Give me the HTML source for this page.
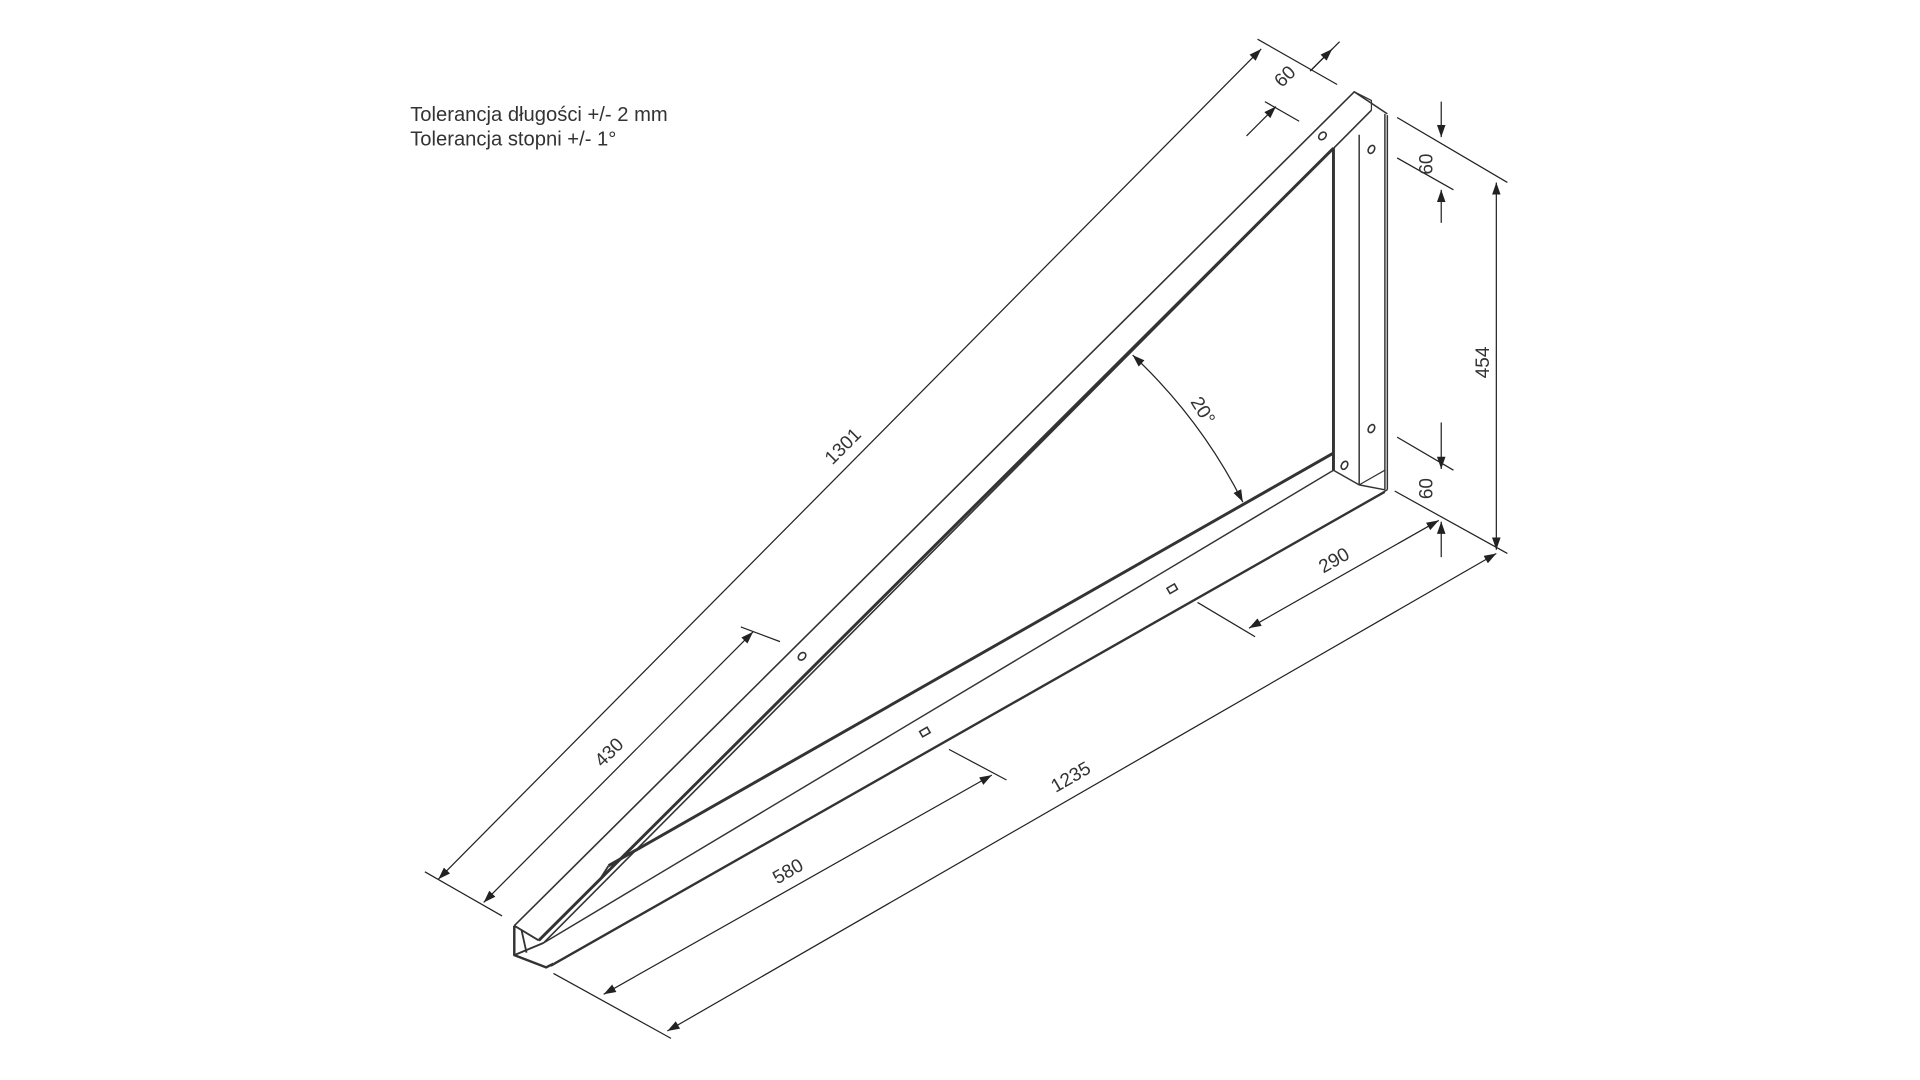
<!DOCTYPE html>
<html><head><meta charset="utf-8"><style>
html,body{margin:0;padding:0;background:#fff;width:1920px;height:1080px;overflow:hidden}
svg{display:block}
text{font-family:"Liberation Sans",sans-serif;fill:#333;font-weight:300}
</style></head><body>
<svg width="1920" height="1080" viewBox="0 0 1568 882" xmlns="http://www.w3.org/2000/svg">
<defs>
<marker id="a" viewBox="0 0 10 10" refX="10" refY="5" markerWidth="10" markerHeight="10" markerUnits="userSpaceOnUse" orient="auto-start-reverse"><path d="M0,1.5 L10,5 L0,8.5z" fill="#222"/></marker>
</defs>
<text x="335" y="99" font-size="16.5">Tolerancja długości +/- 2 mm</text>
<text x="335" y="119" font-size="16.5">Tolerancja stopni +/- 1°</text>

<g stroke="#333" fill="none" stroke-linejoin="round">
<path d="M420,756 L1106,75 L1133,93" stroke-width="1.3"/>
<path d="M1106,75 L1120,82 L1120,90" stroke-width="1"/>
<path d="M444,770 L1120,90" stroke-width="1.3"/>
<path d="M440,768 L1089,121" stroke-width="2.4"/>
<path d="M420,756 L420,780 L446,790 L452,787" stroke-width="2"/>
<path d="M420,756 L440,768 M420,780 L444,770 M426,760 L430,778" stroke-width="1.5"/>
<path d="M1089,121 L1089,384" stroke-width="2.4"/>
<path d="M1110,110 L1110,396" stroke-width="1.2"/>
<path d="M1131,93 L1131,400 M1133,94 L1133,400" stroke-width="1.2"/>
<path d="M1089,384 L1110,396 L1131,400" stroke-width="1.2"/>
<path d="M1110,396 L1131,384" stroke-width="1"/>
<path d="M1089,370 L497,707" stroke-width="2.4"/>
<path d="M1089,384 L444,770" stroke-width="1.2"/>
<path d="M1133,400 L452,787 M1131,402 L450,789" stroke-width="1.2"/>
<path d="M497,707 L490,718" stroke-width="1.5"/>
</g>
<g stroke="#333" fill="none" stroke-width="1.3">
<ellipse cx="1080" cy="111" rx="3.5" ry="2.6" transform="rotate(-45 1080 111)"/>
<ellipse cx="1120" cy="122" rx="3.5" ry="2.4" transform="rotate(-60 1120 122)"/>
<ellipse cx="1120" cy="350" rx="3.5" ry="2.4" transform="rotate(-60 1120 350)"/>
<ellipse cx="1098" cy="380" rx="3.5" ry="2.4" transform="rotate(-60 1098 380)"/>
<ellipse cx="655" cy="536" rx="3.5" ry="2.6" transform="rotate(-45 655 536)"/>
<rect x="752" y="595" width="7" height="5" transform="rotate(-30 756 598)"/>
<rect x="954" y="478" width="7" height="5" transform="rotate(-30 958 481)"/>
</g>
<g stroke="#222" stroke-width="1" fill="none">
<path d="M347,712 L410,748"/>
<path d="M1027,32 L1092,69"/>
<path d="M358,718 L1030,40" marker-start="url(#a)" marker-end="url(#a)"/>
<path d="M1094,34 L1070,58" /><path d="M1070,58 L1088,40" marker-end="url(#a)"/>
<path d="M1018,111 L1042,87" marker-end="url(#a)"/>
<path d="M1033,83 L1061,99"/>
<path d="M1141,96 L1231,149"/>
<path d="M1141,129 L1187,155"/>
<path d="M1177,83 L1177,112" marker-end="url(#a)"/>
<path d="M1177,182 L1177,155" marker-end="url(#a)"/>
<path d="M1222,149 L1222,449" marker-start="url(#a)" marker-end="url(#a)"/>
<path d="M1141,357 L1187,384"/>
<path d="M1139,401 L1231,452"/>
<path d="M1177,345 L1177,383" marker-end="url(#a)"/>
<path d="M1177,455 L1177,426" marker-end="url(#a)"/>
<path d="M978,492 L1025,520"/>
<path d="M1020,513 L1175,425" marker-start="url(#a)" marker-end="url(#a)"/>
<path d="M452,795 L548,848"/>
<path d="M545,842 L1222,452" marker-start="url(#a)" marker-end="url(#a)"/>
<path d="M775,612 L822,637"/>
<path d="M493,812 L810,633" marker-start="url(#a)" marker-end="url(#a)"/>
<path d="M605,512 L637,524"/>
<path d="M395,737 L615,516" marker-start="url(#a)" marker-end="url(#a)"/>
<path d="M925,290 A430,430 0 0 1 1015,410" marker-start="url(#a)" marker-end="url(#a)"/>
</g>
<g font-size="15.5">
<text transform="translate(692,368) rotate(-45)" text-anchor="middle">1301</text>
<text transform="translate(1053,66) rotate(-45)" text-anchor="middle">60</text>
<text transform="translate(1170,134) rotate(-90)" text-anchor="middle">60</text>
<text transform="translate(1216,296) rotate(-90)" text-anchor="middle">454</text>
<text transform="translate(1170,399) rotate(-90)" text-anchor="middle">60</text>
<text transform="translate(1092,462) rotate(-30)" text-anchor="middle">290</text>
<text transform="translate(877,639) rotate(-30)" text-anchor="middle">1235</text>
<text transform="translate(646,716) rotate(-30)" text-anchor="middle">580</text>
<text transform="translate(501,618) rotate(-45)" text-anchor="middle">430</text>
<text transform="translate(978,338) rotate(58)" text-anchor="middle">20°</text>
</g>
</svg>
</body></html>
